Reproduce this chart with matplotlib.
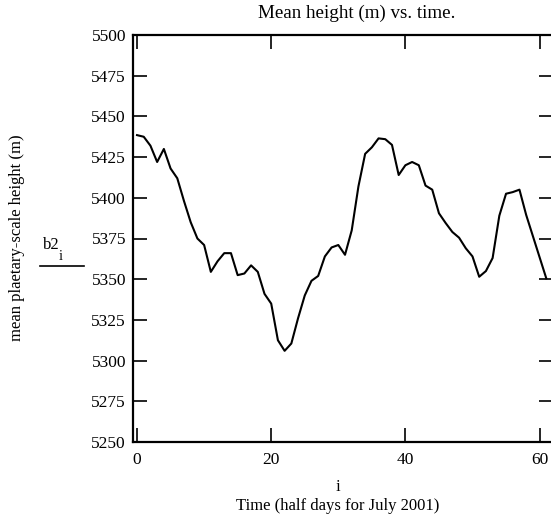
import numpy as np
from matplotlib import pyplot as plt
from matplotlib.lines import Line2D

plt.rcParams["font.family"] = ["Liberation Serif", "DejaVu Serif"]

# mean planetary-scale height, half days of July 2001
b2 = [5438.5, 5437.5, 5432, 5422, 5430, 5418, 5412, 5398, 5385, 5375,
      5371, 5354.5, 5361, 5366, 5366, 5352.5, 5353.5, 5358.5, 5354.5, 5341,
      5335, 5312.5, 5306, 5310.5, 5326, 5340, 5349, 5352, 5364, 5369.5,
      5371, 5365, 5380, 5407, 5427, 5431, 5436.5, 5436, 5432.5, 5414,
      5420, 5422, 5420, 5407.5, 5405, 5390.5, 5384.5, 5379, 5375.5, 5369,
      5364, 5351.5, 5355, 5363, 5389, 5402.5, 5403.5, 5405, 5389.5, 5376.5,
      5363.5, 5350.5]
i = np.arange(len(b2))

xticks = [0, 20, 40, 60]
yticks = list(range(5250, 5501, 25))

W, H = 551, 516
fig = plt.figure(figsize=(W / 100, H / 100), dpi=100)
ax = fig.add_axes([133 / W, (H - 442) / H, (553 - 133) / W, (442 - 35) / H])

ax.plot(i, b2, color="black", lw=1.5)
ax.set_xlim(-0.6, 62)
ax.set_ylim(5250, 5500)
ax.set_xticks(xticks)
ax.set_yticks(yticks)
ax.tick_params(direction="in", length=10, width=1.2, top=True, right=True,
               labelsize=12.5, colors="black")
ax.tick_params(axis="x", pad=7)
ax.tick_params(axis="y", pad=5)
for s in ax.spines.values():
    s.set_linewidth(1.6)

fig.text(357 / W, 1 - 13 / H, "Mean height (m) vs. time.", ha="center", va="center", fontsize=13.7)
fig.text(17 / W, 1 - 238 / H, "mean plaetary-scale height (m)", rotation=90,
         ha="center", va="center", fontsize=12)
fig.text(51 / W, 1 - 245 / H, "b2", ha="center", va="center", fontsize=12)
fig.text(61 / W, 1 - 256 / H, "i", ha="center", va="center", fontsize=10.5)
fig.add_artist(Line2D([40 / W, 84 / W], [1 - 266 / H, 1 - 266 / H], color="black", lw=1.2))
fig.text(338 / W, 1 - 487 / H, "i", ha="center", va="center", fontsize=12)
fig.text(338 / W, 1 - 506 / H, "Time (half days for July 2001)", ha="center", va="center", fontsize=12)

fig.savefig("out.png", dpi=100)
